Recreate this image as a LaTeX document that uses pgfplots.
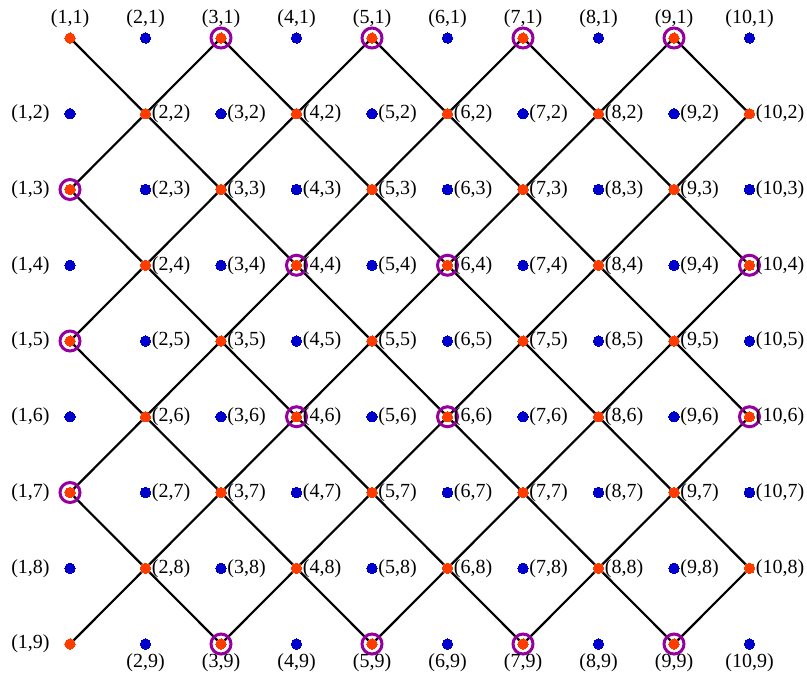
\documentclass[border=0pt]{standalone}
\usepackage{fontspec}
\setmainfont{Liberation Serif}
\usepackage{pgfplots}
\usepackage{pgfplotstable}
\pgfplotsset{compat=1.18}

\definecolor{ptred}{RGB}{255,60,0}
\definecolor{ptblue}{RGB}{0,0,205}
\definecolor{ringpurple}{RGB}{150,0,160}

% points with i+j even
\pgfplotstableread{
x y
1 1
3 1
5 1
7 1
9 1
2 2
4 2
6 2
8 2
10 2
1 3
3 3
5 3
7 3
9 3
2 4
4 4
6 4
8 4
10 4
1 5
3 5
5 5
7 5
9 5
2 6
4 6
6 6
8 6
10 6
1 7
3 7
5 7
7 7
9 7
2 8
4 8
6 8
8 8
10 8
1 9
3 9
5 9
7 9
9 9
}\redpts

% points with i+j odd
\pgfplotstableread{
x y
2 1
4 1
6 1
8 1
10 1
1 2
3 2
5 2
7 2
9 2
2 3
4 3
6 3
8 3
10 3
1 4
3 4
5 4
7 4
9 4
2 5
4 5
6 5
8 5
10 5
1 6
3 6
5 6
7 6
9 6
2 7
4 7
6 7
8 7
10 7
1 8
3 8
5 8
7 8
9 8
2 9
4 9
6 9
8 9
10 9
}\bluepts

\pgfplotstableread{
x y
3 1
5 1
7 1
9 1
1 3
1 5
1 7
4 4
6 4
10 4
4 6
6 6
10 6
3 9
5 9
7 9
9 9
}\rings

% diagonal segments, nan rows split them
\pgfplotstableread{
x y
1 1
9 9
nan nan
3 1
10 8
nan nan
5 1
10 6
nan nan
7 1
10 4
nan nan
9 1
10 2
nan nan
1 3
7 9
nan nan
1 5
5 9
nan nan
1 7
3 9
nan nan
3 1
1 3
nan nan
5 1
1 5
nan nan
7 1
1 7
nan nan
9 1
1 9
nan nan
10 2
3 9
nan nan
10 4
5 9
nan nan
10 6
7 9
nan nan
10 8
9 9
}\paths

\pgfplotstableread{
x y lab
1 1 (1,1)
2 1 (2,1)
3 1 (3,1)
4 1 (4,1)
5 1 (5,1)
6 1 (6,1)
7 1 (7,1)
8 1 (8,1)
9 1 (9,1)
10 1 (10,1)
}\toplabs

\pgfplotstableread{
x y lab
2 9 (2,9)
3 9 (3,9)
4 9 (4,9)
5 9 (5,9)
6 9 (6,9)
7 9 (7,9)
8 9 (8,9)
9 9 (9,9)
10 9 (10,9)
}\bottomlabs

\pgfplotstableread{
x y lab
1 2 (1,2)
1 3 (1,3)
1 4 (1,4)
1 5 (1,5)
1 6 (1,6)
1 7 (1,7)
1 8 (1,8)
1 9 (1,9)
}\leftlabs

\pgfplotstableread{
x y lab
2 2 (2,2)
3 2 (3,2)
4 2 (4,2)
5 2 (5,2)
6 2 (6,2)
7 2 (7,2)
8 2 (8,2)
9 2 (9,2)
10 2 (10,2)
2 3 (2,3)
3 3 (3,3)
4 3 (4,3)
5 3 (5,3)
6 3 (6,3)
7 3 (7,3)
8 3 (8,3)
9 3 (9,3)
10 3 (10,3)
2 4 (2,4)
3 4 (3,4)
4 4 (4,4)
5 4 (5,4)
6 4 (6,4)
7 4 (7,4)
8 4 (8,4)
9 4 (9,4)
10 4 (10,4)
2 5 (2,5)
3 5 (3,5)
4 5 (4,5)
5 5 (5,5)
6 5 (6,5)
7 5 (7,5)
8 5 (8,5)
9 5 (9,5)
10 5 (10,5)
2 6 (2,6)
3 6 (3,6)
4 6 (4,6)
5 6 (5,6)
6 6 (6,6)
7 6 (7,6)
8 6 (8,6)
9 6 (9,6)
10 6 (10,6)
2 7 (2,7)
3 7 (3,7)
4 7 (4,7)
5 7 (5,7)
6 7 (6,7)
7 7 (7,7)
8 7 (8,7)
9 7 (9,7)
10 7 (10,7)
2 8 (2,8)
3 8 (3,8)
4 8 (4,8)
5 8 (5,8)
6 8 (6,8)
7 8 (7,8)
8 8 (8,8)
9 8 (9,8)
10 8 (10,8)
}\rightlabs

\begin{document}
\begin{tikzpicture}
\begin{axis}[
    scale only axis,
    width=403.5pt, height=338.5pt,
    xmin=0.0728, xmax=10.7616,
    ymin=0.4983, ymax=9.4356,
    y dir=reverse,
    axis line style={draw=none},
    ticks=none,
    clip=false,
    unbounded coords=jump,
    labelstyle/.style={
        only marks, mark=*, mark size=0pt,
        mark options={draw=none, fill=none},
        point meta=explicit symbolic,
        nodes near coords,
    },
]
\addplot[only marks, mark=*, mark size=2.6pt, ptred, mark options={line width=0pt}]
    table {\redpts};
\addplot[black, line width=1.1pt, mark=none] table {\paths};
\addplot[only marks, mark=*, mark size=2.6pt, ptblue, mark options={line width=0pt}]
    table {\bluepts};
\addplot[only marks, mark=o, mark size=5pt, ringpurple, line width=1.5pt]
    table {\rings};

\addplot[labelstyle, every node near coord/.style={anchor=center, yshift=9.5pt,
    inner sep=0pt, black, overlay, font=\fontsize{10}{12}\selectfont}]
    table[meta=lab] {\toplabs};
\addplot[labelstyle, every node near coord/.style={anchor=center, yshift=-9.5pt,
    inner sep=0pt, black, overlay, font=\fontsize{10}{12}\selectfont}]
    table[meta=lab] {\bottomlabs};
\addplot[labelstyle, every node near coord/.style={anchor=east, xshift=-10pt,
    inner sep=0pt, black, overlay, font=\fontsize{10}{12}\selectfont}]
    table[meta=lab] {\leftlabs};
\addplot[labelstyle, every node near coord/.style={anchor=west, xshift=3pt,
    inner sep=0pt, black, overlay, font=\fontsize{10}{12}\selectfont}]
    table[meta=lab] {\rightlabs};
\end{axis}
\end{tikzpicture}
\end{document}
